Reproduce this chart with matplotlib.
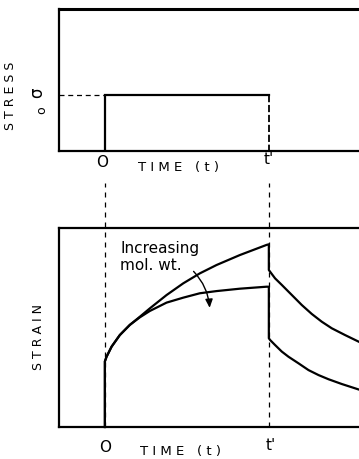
import matplotlib
matplotlib.use("Agg")
import matplotlib.pyplot as plt
from matplotlib.patches import FancyArrowPatch
import matplotlib.transforms as mtransforms

# ---- data ----
t_load = 1.0          # t'
sigma0 = 0.394        # stress level (fraction of axis)
x_min, x_max = -0.28, 1.55

# creep (loading) curves: time, strain
creep_t = [0.0, 0.010, 0.041, 0.091, 0.152, 0.213, 0.274, 0.376, 0.478, 0.579, 0.681, 0.823, 0.986, 1.0]
creep_hi = [0.330, 0.353, 0.404, 0.462, 0.513, 0.554, 0.596, 0.663, 0.722, 0.772, 0.814, 0.864, 0.915, 0.918]
creep_lo = [0.330, 0.353, 0.404, 0.462, 0.513, 0.551, 0.583, 0.625, 0.650, 0.672, 0.683, 0.695, 0.705, 0.705]

# recovery curves after unloading
rec_t_hi = [1.0, 1.008, 1.038, 1.079, 1.120, 1.160, 1.201, 1.262, 1.323, 1.384, 1.465, 1.55]
rec_hi = [0.789, 0.780, 0.747, 0.714, 0.680, 0.647, 0.613, 0.568, 0.529, 0.496, 0.462, 0.428]
rec_t_lo = [1.0, 1.008, 1.038, 1.079, 1.120, 1.181, 1.242, 1.303, 1.364, 1.445, 1.55]
rec_lo = [0.446, 0.437, 0.412, 0.379, 0.353, 0.320, 0.286, 0.261, 0.240, 0.216, 0.188]

tick_labels = ["O", "t'"]

W, H = 359, 459
fig = plt.figure(figsize=(W / 100, H / 100), dpi=100)

def fx(px):
    return px / W

def fy(py):
    return 1 - py / H

lw = 1.6
ink = "black"

# ---- top axes (stress) ----
ax1 = fig.add_axes([fx(59), fy(151), fx(359) - fx(59), fy(9) - fy(151)])
ax1.set_xlim(x_min, x_max)
ax1.set_ylim(0, 1)
for s in ["left", "bottom"]:
    ax1.spines[s].set_linewidth(lw)
ax1.spines["top"].set_linewidth(2.2)
ax1.spines["right"].set_visible(False)
ax1.set_xticks([])
ax1.set_yticks([])
ax1.plot([0, 0, t_load], [0, sigma0, sigma0], color=ink, lw=lw, solid_joinstyle="miter")
ax1.plot([t_load, t_load], [sigma0, 0], color=ink, lw=1.3, ls=(0, (4, 1.5)))
ax1.plot([x_min, 0], [sigma0, sigma0], color=ink, lw=0.9, ls=(0, (4, 3)))

# ---- bottom axes (strain) ----
ax2 = fig.add_axes([fx(59), fy(427), fx(359) - fx(59), fy(228) - fy(427)])
ax2.set_xlim(x_min, x_max)
ax2.set_ylim(0, 1)
for s in ["left", "bottom", "top"]:
    ax2.spines[s].set_linewidth(lw)
ax2.spines["right"].set_visible(False)
ax2.set_xticks([])
ax2.set_yticks([])

ax2.plot([0] + creep_t + rec_t_hi, [0] + creep_hi + rec_hi, color=ink, lw=lw,
         solid_joinstyle="round", clip_on=False)
ax2.plot([0] + creep_t + rec_t_lo, [0] + creep_lo + rec_lo, color=ink, lw=lw,
         solid_joinstyle="round", clip_on=False)

# dashed guide lines linking the panels
btrans = mtransforms.blended_transform_factory(ax2.transData, ax2.transAxes)
for xv in [0, t_load]:
    ax2.plot([xv, xv], [0, 1.226], color=ink, lw=0.9, ls=(0, (4, 4)),
             transform=btrans, clip_on=False)

# curved arrow
arr = FancyArrowPatch((0.529, 0.792), (0.640, 0.585), connectionstyle="arc3,rad=-0.2",
                      arrowstyle="-|>,head_length=5,head_width=2.2", color=ink, lw=1.0,
                      mutation_scale=1)
ax2.add_patch(arr)

# ---- text ----
tf = fig.transFigure
txt = dict(color=ink, ha="center", va="center", transform=tf)
for (xo, yo), (xt, yt), (xtm, ytm) in [((102, 162), (269, 160), (179, 167)),
                                         ((105, 447), (271, 446), (180, 452))]:
    fig.text(fx(xo), fy(yo), tick_labels[0], fontsize=11, **txt)
    fig.text(fx(xt), fy(yt), tick_labels[1], fontsize=11, **txt)
    fig.text(fx(xtm), fy(ytm), "T I M E   ( t )", fontsize=9.5, **txt)

fig.text(fx(11), fy(96), "S T R E S S", fontsize=9, rotation=90, **txt)
fig.text(fx(38), fy(337), "S T R A I N", fontsize=9, rotation=90, **txt)
fig.text(fx(37), fy(93), "σ", fontsize=12, rotation=90, **txt)
fig.text(fx(42), fy(110), "o", fontsize=9, rotation=90, **txt)

fig.text(fx(120), fy(248), "Increasing", fontsize=11, ha="left", va="center",
         transform=tf, color=ink)
fig.text(fx(120), fy(266), "mol. wt.", fontsize=11, ha="left", va="center",
         transform=tf, color=ink)

fig.savefig("out.png", dpi=100)
